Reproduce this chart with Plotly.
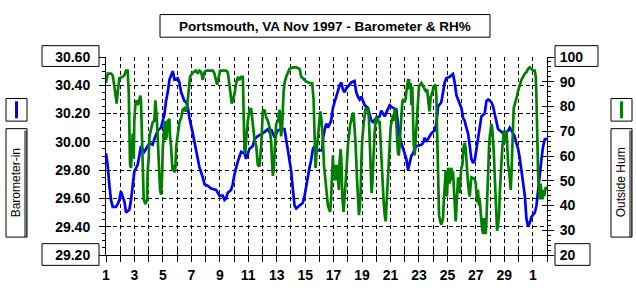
import plotly.graph_objects as go
import pandas as pd

# ---------------- data (Nov 1997; day 1.0 = Nov 1 00:00, 31 = Dec 1) ----------------
baro_day = [1.00, 1.11, 1.23, 1.35, 1.47, 1.70, 1.82, 1.94, 2.05, 2.17, 2.29, 2.41, 2.64, 2.76,
            2.87, 2.99, 3.23, 3.34, 3.46, 3.69, 3.93, 4.05, 4.28, 4.40, 4.64, 4.87, 4.99, 5.10,
            5.22, 5.34, 5.46, 5.57, 5.69, 5.81, 6.04, 6.16, 6.28, 6.51, 6.63, 6.74, 6.86, 7.10,
            7.33, 7.57, 7.80, 7.92, 8.15, 8.39, 8.74, 8.97, 9.21, 9.33, 9.44, 9.56, 9.79, 9.91,
            10.03, 10.26, 10.50, 10.73, 10.85, 11.08, 11.32, 11.44, 11.67, 12.02, 12.38, 12.49,
            12.61, 12.85, 13.08, 13.31, 13.55, 13.66, 13.78, 13.90, 14.02, 14.14, 14.25, 14.37,
            14.60, 14.84, 14.96, 15.08, 15.20, 15.31, 15.42, 15.54, 15.66, 15.78, 16.20, 16.25,
            16.36, 16.48, 16.60, 16.71, 16.83, 16.95, 17.07, 17.18, 17.30, 17.42, 17.54, 17.65,
            17.77, 17.89, 18.00, 18.24, 18.47, 18.59, 18.71, 18.83, 18.94, 19.06, 19.18, 19.41,
            19.53, 19.65, 19.76, 20.00, 20.23, 20.35, 20.59, 20.82, 20.94, 21.17, 21.41, 21.52,
            21.64, 21.76, 21.88, 21.99, 22.11, 22.23, 22.34, 22.46, 22.58, 22.81, 23.17, 23.28,
            23.40, 23.51, 23.75, 23.87, 24.10, 24.22, 24.34, 24.57, 24.69, 24.81, 24.92, 25.16,
            25.39, 25.51, 25.63, 25.74, 25.86, 25.98, 26.10, 26.21, 26.33, 26.45, 26.57, 26.68,
            26.80, 26.92, 27.04, 27.15, 27.27, 27.39, 27.62, 27.74, 27.86, 28.09, 28.21, 28.33,
            28.44, 28.56, 28.80, 29.03, 29.27, 29.38, 29.62, 29.73, 29.85, 29.97, 30.09, 30.20,
            30.32, 30.44, 30.55, 30.67, 30.79, 30.91, 31.14, 31.26, 31.38, 31.49, 31.61, 31.73,
            31.85, 32.00]
baro_inhg = [29.92, 29.84, 29.70, 29.59, 29.54, 29.54, 29.56, 29.59, 29.65, 29.62, 29.58, 29.50,
             29.52, 29.59, 29.68, 29.79, 29.84, 29.90, 29.97, 29.93, 29.97, 29.99, 29.98, 30.02,
             30.08, 30.10, 30.15, 30.19, 30.29, 30.35, 30.44, 30.47, 30.50, 30.44, 30.45, 30.42,
             30.35, 30.29, 30.28, 30.25, 30.17, 30.06, 29.93, 29.82, 29.75, 29.70, 29.69, 29.67,
             29.66, 29.62, 29.62, 29.59, 29.60, 29.64, 29.66, 29.70, 29.77, 29.86, 29.93, 29.92,
             29.88, 29.95, 29.97, 30.02, 30.04, 30.06, 30.09, 30.07, 30.09, 30.03, 30.08, 30.09,
             30.09, 30.02, 29.93, 29.85, 29.79, 29.66, 29.55, 29.53, 29.55, 29.57, 29.62, 29.70,
             29.76, 29.82, 29.87, 29.95, 29.97, 29.94, 29.94, 30.02, 30.08, 30.13, 30.10, 30.13,
             30.15, 30.24, 30.28, 30.33, 30.37, 30.40, 30.42, 30.37, 30.35, 30.38, 30.39, 30.42,
             30.43, 30.35, 30.32, 30.30, 30.32, 30.29, 30.26, 30.24, 30.20, 30.15, 30.14, 30.17,
             30.18, 30.22, 30.18, 30.24, 30.26, 30.24, 30.23, 30.13, 30.04, 29.99, 29.95, 29.93,
             29.88, 29.80, 29.84, 29.90, 29.92, 29.97, 29.98, 29.99, 30.03, 30.00, 30.04, 30.06,
             30.08, 30.13, 30.25, 30.28, 30.35, 30.42, 30.45, 30.46, 30.48, 30.42, 30.33, 30.30,
             30.27, 30.24, 30.17, 30.15, 30.10, 30.06, 29.97, 29.88, 29.85, 29.87, 29.95, 30.02,
             30.10, 30.18, 30.20, 30.29, 30.30, 30.28, 30.25, 30.20, 30.15, 30.09, 30.07, 30.05,
             30.08, 30.10, 30.06, 30.04, 29.99, 29.95, 29.88, 29.79, 29.70, 29.62, 29.46, 29.40,
             29.43, 29.47, 29.50, 29.55, 29.66, 29.79, 29.88, 29.97, 30.02, 30.02]

hum_day = [1.00, 1.12, 1.35, 1.47, 1.59, 1.70, 1.75, 1.82, 1.94, 2.17, 2.29, 2.41, 2.52, 2.60,
           2.64, 2.69, 2.76, 2.83, 2.88, 2.95, 2.99, 3.06, 3.16, 3.23, 3.35, 3.42, 3.46, 3.53,
           3.58, 3.65, 3.77, 3.89, 3.93, 4.00, 4.05, 4.17, 4.28, 4.40, 4.47, 4.57, 4.64, 4.71,
           4.80, 4.87, 4.94, 4.99, 5.06, 5.13, 5.20, 5.27, 5.34, 5.46, 5.50, 5.57, 5.64, 5.69,
           5.76, 5.81, 5.88, 5.93, 6.04, 6.16, 6.28, 6.39, 6.51, 6.58, 6.68, 6.75, 6.82, 6.91,
           7.05, 7.15, 7.33, 7.45, 7.57, 7.69, 7.80, 7.92, 8.04, 8.51, 8.62, 8.74, 8.81, 8.93,
           9.02, 9.44, 9.56, 9.63, 9.73, 9.84, 9.91, 10.03, 10.15, 10.27, 10.38, 10.50, 10.62,
           10.66, 10.73, 10.80, 10.85, 10.97, 11.09, 11.20, 11.27, 11.37, 11.44, 11.56, 11.67,
           11.79, 11.91, 12.02, 12.14, 12.26, 12.38, 12.49, 12.61, 12.68, 12.73, 12.80, 12.85,
           12.96, 13.08, 13.20, 13.31, 13.38, 13.48, 13.55, 13.67, 13.78, 13.90, 14.14, 14.37,
           14.61, 14.72, 14.84, 14.96, 15.07, 15.31, 15.49, 15.59, 15.66, 15.73, 15.82, 15.89,
           15.96, 16.06, 16.13, 16.20, 16.25, 16.32, 16.36, 16.43, 16.53, 16.60, 16.67, 16.76,
           16.83, 16.90, 16.95, 16.99, 17.07, 17.14, 17.18, 17.23, 17.30, 17.37, 17.42, 17.49,
           17.54, 17.61, 17.70, 17.77, 17.84, 17.93, 18.00, 18.08, 18.17, 18.24, 18.31, 18.40,
           18.47, 18.54, 18.64, 18.71, 18.78, 18.83, 18.90, 18.94, 19.01, 19.11, 19.18, 19.25,
           19.37, 19.41, 19.48, 19.53, 19.60, 19.67, 19.72, 19.76, 19.83, 19.88, 19.95, 20.00,
           20.12, 20.19, 20.23, 20.30, 20.42, 20.52, 20.59, 20.66, 20.75, 20.82, 20.89, 20.94,
           21.01, 21.13, 21.17, 21.24, 21.29, 21.36, 21.41, 21.48, 21.52, 21.59, 21.64, 21.69,
           21.76, 21.83, 21.88, 21.99, 22.06, 22.16, 22.23, 22.30, 22.34, 22.42, 22.46, 22.53,
           22.58, 22.63, 22.70, 22.77, 22.86, 22.93, 23.00, 23.17, 23.28, 23.40, 23.47, 23.57,
           23.64, 23.71, 23.75, 23.82, 23.94, 24.03, 24.17, 24.22, 24.27, 24.34, 24.41, 24.50,
           24.57, 24.64, 24.69, 24.74, 24.81, 24.88, 24.93, 24.97, 25.04, 25.11, 25.16, 25.21,
           25.28, 25.35, 25.39, 25.44, 25.51, 25.58, 25.63, 25.68, 25.75, 25.82, 25.86, 25.91,
           25.98, 26.05, 26.10, 26.15, 26.22, 26.29, 26.33, 26.38, 26.45, 26.52, 26.57, 26.64,
           26.69, 26.92, 26.99, 27.04, 27.08, 27.15, 27.22, 27.27, 27.32, 27.39, 27.46, 27.51,
           27.55, 27.62, 27.69, 27.74, 27.79, 27.86, 27.93, 27.98, 28.05, 28.09, 28.16, 28.21,
           28.26, 28.33, 28.40, 28.44, 28.49, 28.56, 28.63, 28.68, 28.73, 28.80, 28.87, 28.91,
           28.98, 29.03, 29.10, 29.15, 29.20, 29.27, 29.34, 29.38, 29.45, 29.50, 29.55, 29.62,
           29.66, 29.73, 29.80, 29.90, 29.97, 30.09, 30.20, 30.32, 30.44, 30.56, 30.67, 30.79,
           30.91, 31.03, 31.14, 31.21, 31.26, 31.33, 31.38, 31.45, 31.49, 31.54, 31.61, 31.68,
           31.73, 31.80, 31.84, 31.91, 32.00]
hum_pct = [89.5, 93.3, 93.3, 92.6, 88.2, 84.4, 81.2, 85.6, 91.4, 92.0, 92.6, 94.5, 94.5, 85.6,
           71.7, 56.4, 55.2, 62.8, 69.1, 59.0, 74.2, 80.6, 82.5, 80.6, 82.5, 84.4, 81.8, 65.3,
           53.9, 42.5, 40.6, 42.5, 53.9, 59.0, 67.8, 71.7, 73.6, 74.2, 82.5, 75.5, 65.3, 53.9,
           46.3, 44.4, 51.4, 62.8, 69.1, 74.2, 66.6, 67.9, 74.2, 74.9, 67.9, 64.1, 57.1, 53.9,
           56.4, 53.3, 55.2, 63.4, 68.5, 73.6, 75.5, 78.7, 79.3, 78.0, 78.7, 83.1, 89.5, 92.0,
           93.3, 93.9, 94.5, 93.3, 94.5, 93.9, 90.7, 93.9, 94.5, 94.5, 93.3, 90.7, 88.8, 92.0,
           94.5, 94.5, 93.9, 90.7, 85.0, 81.2, 82.5, 85.0, 89.5, 92.0, 90.7, 92.0, 92.0,
           72.9, 62.8, 60.9, 66.6, 74.2, 78.7, 79.3, 75.5, 70.4, 66.6, 64.1, 56.4,
           55.8, 64.1, 78.0, 78.7, 75.5, 74.2, 71.7, 66.0, 56.4, 52.0, 55.2, 60.9,
           72.9, 74.2, 78.7, 67.9, 71.7, 85.6, 89.5, 92.0, 93.9, 95.2, 95.8, 95.8,
           95.2, 92.0, 91.4, 90.7, 90.1, 89.5, 89.5, 83.1, 67.9, 55.2, 62.8, 66.6,
           72.9, 78.0, 75.5, 71.7, 66.6, 56.4, 53.9, 47.5, 41.2, 39.9, 38.7, 37.4,
           43.7, 57.7, 60.2, 50.1, 56.4, 53.9, 50.1, 56.4, 48.8, 46.3, 57.7, 62.8,
           59.0, 43.7, 37.4, 42.5, 50.1, 56.4, 64.1, 69.1, 72.9, 74.2, 76.8, 77.4,
           71.7, 65.3, 51.4, 41.2, 36.1, 38.7, 45.0, 56.4, 66.6, 72.9, 78.0, 79.3,
           78.7, 79.3, 75.5, 66.6, 55.2, 45.0, 48.8, 56.4, 62.8, 69.1, 74.2, 75.5,
           74.9, 72.9, 74.2, 65.3, 51.4, 41.2, 36.1, 33.6, 43.7, 51.4, 56.4, 66.6,
           71.7, 75.5, 76.8, 74.2, 79.3, 78.0, 72.9, 67.9, 61.5, 60.2, 66.6, 71.7,
           75.5, 81.8, 82.5, 81.8, 83.1, 88.2, 90.7, 90.7, 86.9, 89.5, 80.6, 88.2,
           74.2, 65.3, 60.2, 66.6, 79.3, 85.6, 88.2, 89.5, 88.2, 86.9, 86.3, 86.9,
           81.8, 79.3, 78.0, 83.7, 85.6, 88.2, 88.8, 84.4, 71.7, 53.9, 36.1, 33.6,
           32.3, 33.6, 34.9, 41.2, 50.1, 53.9, 50.1, 43.7, 55.2, 53.9, 48.8, 53.9,
           55.2, 50.1, 53.9, 48.8, 38.7, 33.6, 38.7, 45.0, 51.4, 48.8, 45.0, 50.1,
           55.2, 56.4, 62.8, 64.1, 65.3, 62.8, 59.0, 52.6, 48.8, 45.0, 43.7, 48.8,
           51.4, 50.7, 48.8, 45.0, 41.2, 46.3, 39.9, 42.5, 37.4, 33.6, 29.8, 28.5,
           34.9, 31.0, 28.5, 33.6, 43.7, 53.9, 64.1, 67.9, 71.7, 72.9, 70.4, 66.6,
           61.5, 51.4, 38.7, 33.6, 29.8, 32.3, 36.1, 45.0, 53.9, 57.7, 64.1, 66.6,
           70.4, 65.3, 66.6, 70.4, 62.8, 56.4, 53.9, 48.8, 46.3, 52.6, 66.6, 72.9,
           79.3, 80.6, 81.8, 84.4, 86.3, 88.8, 90.7, 92.0, 93.3, 93.9, 95.2, 95.8,
           95.2, 94.5, 94.5, 92.0, 83.1, 64.1, 51.4, 46.3, 42.5, 48.8, 45.0, 42.5,
           46.3, 43.7, 45.0, 47.5, 46.3]

title_text = "Portsmouth, VA Nov 1997 - Barometer & RH%"
left_name = "Barometer-in"
right_name = "Outside Hum"

# ---------------- helpers ----------------
BASE = pd.Timestamp("1997-10-31")
def to_ts(days):
    return [BASE + pd.Timedelta(days=d) for d in days]

X0, X1 = BASE + pd.Timedelta(days=1), BASE + pd.Timedelta(days=32)

W, H = 636, 295
L, R, T, B = 106, 547, 57, 267
def px(x):
    return (x - L) / (R - L)
def py(y):
    return (B - y) / (B - T)

BLUE = "#0000FF"
GREEN = "#008000"
DASH = "4px,3px"
tfont = dict(family="Arial", size=14, color="black", weight="bold")

fig = go.Figure()
fig.add_trace(go.Scatter(x=to_ts(baro_day), y=baro_inhg, mode="lines",
                         line=dict(color=BLUE, width=2.7), name=left_name,
                         showlegend=False, hoverinfo="skip"))
fig.add_trace(go.Scatter(x=to_ts(hum_day), y=hum_pct, mode="lines", yaxis="y2",
                         line=dict(color=GREEN, width=2.7), name=right_name,
                         showlegend=False, hoverinfo="skip"))
# empty traces so the tick-overlay axes get drawn
fig.add_trace(go.Scatter(x=[], y=[], xaxis="x2", yaxis="y", showlegend=False))
fig.add_trace(go.Scatter(x=[], y=[], xaxis="x", yaxis="y3", showlegend=False))
fig.add_trace(go.Scatter(x=[], y=[], xaxis="x", yaxis="y4", showlegend=False))

fig.update_layout(
    width=W, height=H, autosize=False,
    margin=dict(l=L, r=W - R, t=T, b=H - B, pad=0),
    paper_bgcolor="white", plot_bgcolor="white",
    showlegend=False,
    xaxis=dict(type="date", range=[X0, X1], tick0=X0, dtick=2 * 86400000,
               tickformat="%-d", ticks="outside", ticklen=6, tickcolor="black",
               tickfont=tfont, showline=True, linecolor="black", linewidth=1,
               showgrid=True, gridcolor="black", gridwidth=1, griddash=DASH,
               zeroline=False, ticklabelstandoff=1,
               minor=dict(dtick=86400000, ticks="outside", ticklen=6, tickcolor="black",
                          showgrid=True, gridcolor="black", griddash=DASH)),
    xaxis2=dict(type="date", overlaying="x", anchor="y", range=[X0, X1], tick0=X0,
                dtick=86400000, ticks="inside", ticklen=5, tickcolor="black",
                showticklabels=False, showgrid=False, showline=False, zeroline=False),
    yaxis=dict(range=[29.2, 30.6], dtick=0.2, tick0=29.2, tickformat=".2f",
               ticks="outside", ticklen=6, tickcolor="black", tickfont=tfont,
               showline=True, linecolor="black", linewidth=1,
               showgrid=True, gridcolor="black", gridwidth=1, griddash=DASH,
               zeroline=False, ticklabelstandoff=6,
               minor=dict(dtick=0.05, ticks="outside", ticklen=3, tickcolor="black",
                          showgrid=False)),
    yaxis2=dict(range=[20, 100], dtick=10, tick0=20, overlaying="y", side="right",
                anchor="x", ticks="outside", ticklen=6, tickcolor="black", tickfont=tfont,
                showline=True, linecolor="black", linewidth=1, showgrid=False,
                zeroline=False, ticklabelstandoff=3,
                minor=dict(dtick=2, ticks="outside", ticklen=3, tickcolor="black",
                           showgrid=False)),
    yaxis3=dict(range=[29.2, 30.6], dtick=0.2, tick0=29.2, overlaying="y", side="left",
                anchor="x", ticks="inside", ticklen=5, tickcolor="black",
                showticklabels=False, showgrid=False, showline=False, zeroline=False),
    yaxis4=dict(range=[20, 100], dtick=10, tick0=20, overlaying="y", side="right",
                anchor="x", ticks="inside", ticklen=5, tickcolor="black",
                showticklabels=False, showgrid=False, showline=False, zeroline=False),
)

shapes = []
def rect(x0, y0, x1, y1, fill="rgba(0,0,0,0)", line=1, lc="black"):
    shapes.append(dict(type="rect", xref="paper", yref="paper",
                       x0=px(x0), x1=px(x1), y0=py(y1), y1=py(y0),
                       line=dict(color=lc, width=line), fillcolor=fill, layer="above"))

# title box
rect(160, 12, 490, 36)
# boxed end labels
rect(42, 45, 99, 67)
rect(42, 255, 99, 278)
rect(555, 45, 598, 67)
rect(555, 255, 590, 278)
# legend swatches and name boxes
rect(6, 101, 27, 125)
rect(611, 101, 632, 125)
rect(24, 135, 27, 248, fill="#808080", line=0)
rect(629, 135, 632, 248, fill="#808080", line=0)
rect(6, 133, 27, 248)
rect(611, 133, 632, 248)
shapes.append(dict(type="line", xref="paper", yref="paper", x0=px(16.5), x1=px(16.5),
                   y0=py(122), y1=py(104), line=dict(color=BLUE, width=3)))
shapes.append(dict(type="line", xref="paper", yref="paper", x0=px(621.5), x1=px(621.5),
                   y0=py(122), y1=py(104), line=dict(color=GREEN, width=3)))
fig.update_layout(shapes=shapes)

fig.add_annotation(x=px(325), y=py(24.5), xref="paper", yref="paper", showarrow=False,
                   text=title_text, xanchor="center", yanchor="middle",
                   font=dict(family="Arial", size=13.5, color="black", weight="bold"))
fig.add_annotation(x=px(15.5), y=py(190.5), xref="paper", yref="paper", showarrow=False,
                   text=left_name, textangle=-90, xanchor="center", yanchor="middle",
                   font=dict(family="Arial", size=12, color="black"))
fig.add_annotation(x=px(620.5), y=py(190.5), xref="paper", yref="paper", showarrow=False,
                   text=right_name, textangle=-90, xanchor="center", yanchor="middle",
                   font=dict(family="Arial", size=12, color="black"))

fig.write_html("out.html")
